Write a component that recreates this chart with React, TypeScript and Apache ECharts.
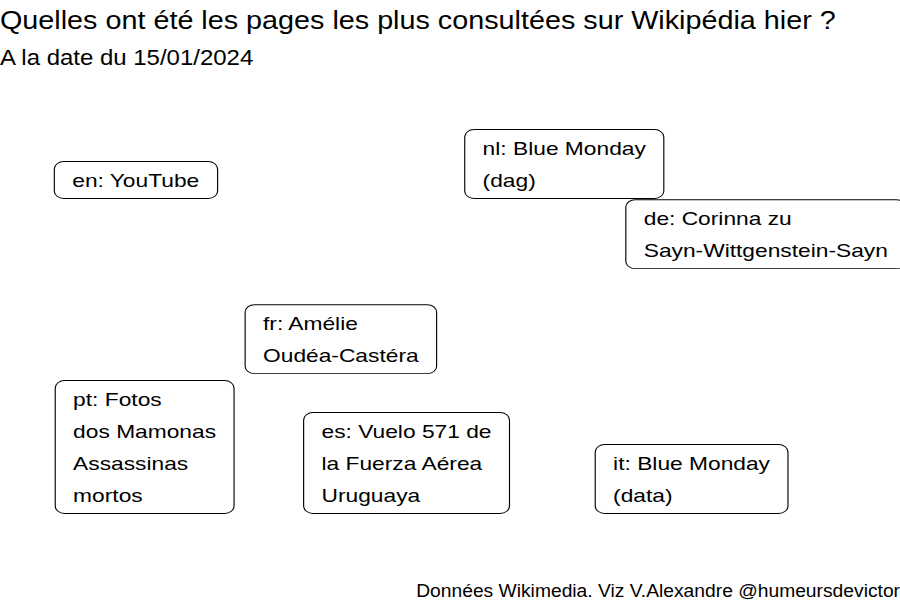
import React, { useEffect, useRef } from "react";
import * as echarts from "echarts";

const titleText = "Quelles ont été les pages les plus consultées sur Wikipédia hier ?";
const subtitleText = "A la date du 15/01/2024";
const captionText = "Données Wikimedia. Viz V.Alexandre @humeursdevictor";

const langs = ["en", "nl", "de", "fr", "pt", "es", "it"];
const pages = [
  "YouTube",
  "Blue Monday\n(dag)",
  "Corinna zu\nSayn-Wittgenstein-Sayn",
  "Amélie\nOudéa-Castéra",
  "Fotos\ndos Mamonas\nAssassinas\nmortos",
  "Vuelo 571 de\nla Fuerza Aérea\nUruguaya",
  "Blue Monday\n(data)",
];
const xPos = [0.61, 5.17, 6.96, 2.73, 0.62, 3.38, 6.62];
const yPos = [6.7, 6.7, 5.53, 3.78, 1.45, 1.45, 1.45];

const FONT = '"Liberation Sans", Arial, Helvetica, sans-serif';
const LABEL_SX = 1.265;

export default function App() {
  const ref = useRef<HTMLDivElement>(null);
  useEffect(() => {
    if (!ref.current) return;
    const chart = echarts.init(ref.current, null, { renderer: "svg" });
    const labels = langs.map((l, i) => `${l}: ${pages[i]}`);
    const data = xPos.map((x, i) => [x, yPos[i]]);
    chart.setOption({
      animation: false,
      backgroundColor: "#ffffff",
      grid: { left: 0, right: 0, top: 0, bottom: 0 },
      xAxis: { type: "value", min: 0, max: 10, show: false },
      yAxis: { type: "value", min: 0, max: 10, show: false },
      graphic: [
        {
          type: "text",
          x: 0,
          y: 21,
          scaleX: 1.15,
          style: {
            text: titleText,
            fontSize: 25,
            fontFamily: FONT,
            fill: "#000",
            align: "left",
            verticalAlign: "middle",
          },
        },
        {
          type: "text",
          x: 0,
          y: 57,
          scaleX: 1.09,
          style: {
            text: subtitleText,
            fontSize: 22,
            fontFamily: FONT,
            fill: "#000",
            align: "left",
            verticalAlign: "middle",
          },
        },
        {
          type: "text",
          x: 900,
          y: 591,
          scaleX: 1.03,
          style: {
            text: captionText,
            fontSize: 18.7,
            fontFamily: FONT,
            fill: "#000",
            align: "right",
            verticalAlign: "middle",
          },
        },
      ],
      series: [
        {
          type: "custom",
          clip: false,
          data,
          renderItem: (params: any, api: any) => {
            const p = api.coord([api.value(0), api.value(1)]);
            const i = params.dataIndex;
            return {
              type: "text",
              x: p[0],
              y: p[1],
              scaleX: LABEL_SX,
              style: {
                text: labels[i],
                fontSize: 18,
                fontFamily: FONT,
                fill: "#000",
                align: "left",
                verticalAlign: "bottom",
                lineHeight: 32,
                backgroundColor: "#ffffff",
                borderColor: "#000000",
                borderWidth: 0.9,
                borderRadius: 7,
                padding: [2, 13.7, 2, 13.7],
              },
            };
          },
        },
      ],
    });
    return () => chart.dispose();
  }, []);
  return (
    <div
      ref={ref}
      style={{ position: "absolute", left: 0, top: 0, width: 900, height: 600 }}
    />
  );
}
